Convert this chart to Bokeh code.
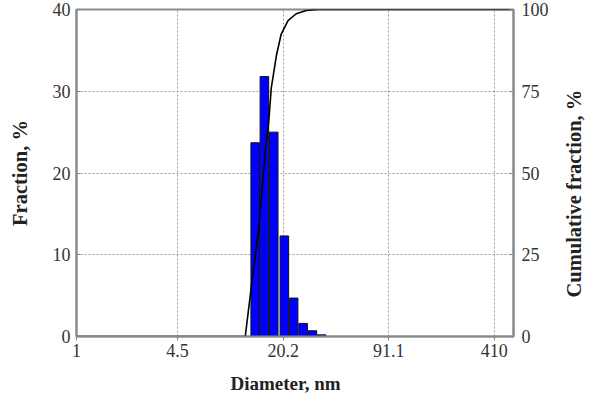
import math
from bokeh.plotting import figure
from bokeh.models import Range1d, LinearAxis, FixedTicker, CustomJSTickFormatter
from bokeh.embed import file_html
from bokeh.resources import INLINE

# ---- data ----
bin_diameter = [13.6, 15.5, 17.7, 20.6, 23.5, 26.9, 30.7, 35.0]
fraction = [23.7, 31.8, 25.0, 12.3, 4.7, 1.6, 0.7, 0.2]
cum_diameter = [1.066, 11.8, 13.0, 14.3, 15.65, 16.5, 17.1, 18.4, 19.7, 21.7, 24.4, 28.1, 33.2, 539.0]
cum_fraction = [0, 0, 17, 33, 56, 66, 76, 86, 92.5, 96.6, 98.7, 99.7, 100, 100]
x_tick_values = [1.066, 4.5, 20.25, 91.125, 410.06]
x_tick_labels = ["1", "4.5", "20.2", "91.1", "410"]
left_ticks = [0, 10, 20, 30, 40]
right_ticks = [0, 25, 50, 75, 100]

SERIF = "Liberation Serif"
GRAY = "#8a8a8a"

p = figure(width=598, height=399, x_axis_type="log",
           x_range=Range1d(1.066, 539), y_range=Range1d(0, 40),
           output_backend="svg", toolbar_location=None,
           min_border_left=76, min_border_right=84, min_border_top=9, min_border_bottom=63)
p.extra_y_ranges = {"cum": Range1d(0, 100)}
p.background_fill_color = "white"
p.border_fill_color = "white"
p.outline_line_color = GRAY
p.outline_line_width = 2

half = 10 ** (4.3 / 162.0)
lefts = [d / half for d in bin_diameter]
rights = [d * half for d in bin_diameter]
p.quad(left=lefts, right=rights, bottom=0, top=fraction,
       fill_color="#0000ff", line_color="#111111", line_width=1)
p.line(cum_diameter, cum_fraction, y_range_name="cum", line_color="black", line_width=1.6)

# x axis
xa = p.xaxis[0]
xa.ticker = FixedTicker(ticks=x_tick_values)
xa.formatter = CustomJSTickFormatter(args=dict(vals=x_tick_values, labels=x_tick_labels), code="""
let best = 0;
for (let i = 0; i < vals.length; i++) {
  if (Math.abs(Math.log(vals[i]) - Math.log(tick)) < Math.abs(Math.log(vals[best]) - Math.log(tick))) best = i;
}
return labels[best];
""")
xa.major_tick_in = 0
xa.major_tick_out = 4
xa.minor_tick_line_color = None
xa.axis_line_color = GRAY
xa.axis_line_width = 2
xa.major_tick_line_color = GRAY
xa.major_label_standoff = 3
xa.major_label_text_font = SERIF
xa.major_label_text_font_size = "18px"
xa.major_label_text_color = "#333333"
xa.axis_label = "Diameter, nm\u2003"
xa.axis_label_text_font = SERIF
xa.axis_label_text_font_style = "bold"
xa.axis_label_text_font_size = "19px"
xa.axis_label_text_color = "#222222"
xa.axis_label_standoff = 13

# left axis
ya = p.yaxis[0]
ya.ticker = FixedTicker(ticks=left_ticks)
ya.major_tick_in = 4
ya.major_tick_out = 0
ya.minor_tick_line_color = None
ya.axis_line_color = GRAY
ya.axis_line_width = 2
ya.major_tick_line_color = GRAY
ya.major_label_standoff = 6
ya.major_label_text_font = SERIF
ya.major_label_text_font_size = "18px"
ya.major_label_text_color = "#333333"
ya.axis_label = "Fraction, %"
ya.axis_label_text_font = SERIF
ya.axis_label_text_font_style = "bold"
ya.axis_label_text_font_size = "20.5px"
ya.axis_label_text_color = "#222222"
ya.axis_label_standoff = 19

# right axis
ra = LinearAxis(y_range_name="cum", ticker=FixedTicker(ticks=right_ticks))
ra.major_tick_in = 4
ra.major_tick_out = 0
ra.minor_tick_line_color = None
ra.axis_line_color = GRAY
ra.axis_line_width = 2
ra.major_tick_line_color = GRAY
ra.major_label_standoff = 8
ra.major_label_text_font = SERIF
ra.major_label_text_font_size = "18px"
ra.major_label_text_color = "#333333"
ra.axis_label = "\u2003\u2002\u2009\u2009Cumulative fraction, %"
ra.axis_label_text_font = SERIF
ra.axis_label_text_font_style = "bold"
ra.axis_label_text_font_size = "20.5px"
ra.axis_label_text_color = "#222222"
ra.axis_label_standoff = 22
try:
    ra.axis_label_orientation = math.pi / 2
    ra.axis_label_align = "start"
except Exception:
    pass
p.add_layout(ra, "right")

# grid
p.xgrid.grid_line_color = "#9a9a9a"
p.xgrid.grid_line_dash = "2 2"
p.xgrid.grid_line_width = 1
p.ygrid.grid_line_color = "#9a9a9a"
p.ygrid.grid_line_dash = "2 2"
p.ygrid.grid_line_width = 1

open("out.html", "w").write(file_html(p, INLINE))
